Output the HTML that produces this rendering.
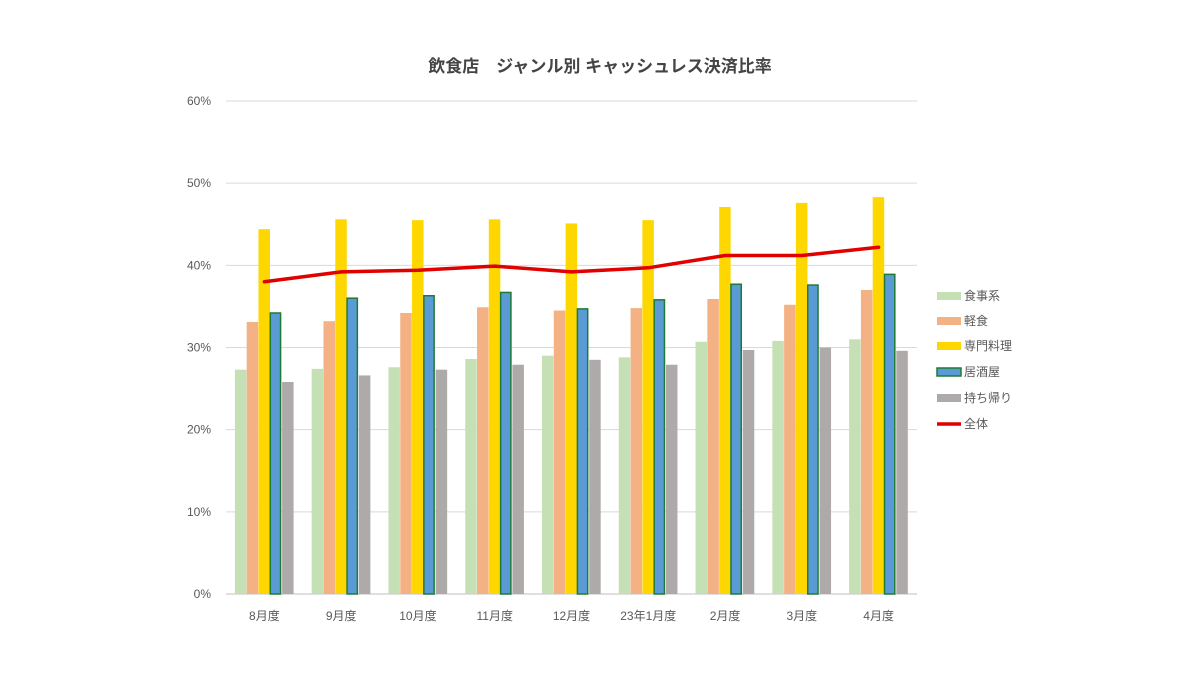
<!DOCTYPE html>
<html><head><meta charset="utf-8"><style>
body{margin:0;background:#fff;}
svg{display:block;font-family:"Liberation Sans","Noto Sans CJK JP",sans-serif;}
</style></head><body>
<svg width="1202" height="677">
<g id="grid"></g><g id="bars"></g><g id="line"></g><g id="labels"></g><g id="legend"></g>
<text x="600" y="72" text-anchor="middle" font-size="17" font-weight="bold" fill="#444">飲食店　ジャンル別 キャッシュレス決済比率</text>
</svg>
<script>
const categories=["8月度","9月度","10月度","11月度","12月度","23年1月度","2月度","3月度","4月度"];
const seriesNames=["食事系","軽食","専門料理","居酒屋","持ち帰り"];
const shokuji=[27.3,27.4,27.6,28.6,29.0,28.8,30.7,30.8,31.0];
const keishoku=[33.1,33.2,34.2,34.9,34.5,34.8,35.9,35.2,37.0];
const senmon=[44.4,45.6,45.5,45.6,45.1,45.5,47.1,47.6,48.3];
const izakaya=[34.2,36.0,36.3,36.7,34.7,35.8,37.7,37.6,38.9];
const mochikaeri=[25.8,26.6,27.3,27.9,28.5,27.9,29.7,30.0,29.6];
const zentai=[38.0,39.2,39.4,39.9,39.2,39.7,41.2,41.2,42.2];
const yTicks=[0,10,20,30,40,50,60];
const NS="http://www.w3.org/2000/svg";
const x0=226,x1=917,yb=594,yt=101;
const y=v=>yb-(v/60)*(yb-yt);
const cw=(x1-x0)/categories.length;
const xc=i=>x0+cw*(i+0.5);
const bw=11.8;
function mk(tag,attrs,parent){const e=document.createElementNS(NS,tag);for(const k in attrs)e.setAttribute(k,attrs[k]);document.getElementById(parent).appendChild(e);return e;}
yTicks.forEach(t=>{
 const l=mk('line',{x1:x0,x2:x1,y1:y(t),y2:y(t),stroke:t===0?'#bfbfbf':'#d9d9d9','stroke-width':1},'grid');
 
 
 const tx=mk('text',{x:211,y:y(t)+4,'text-anchor':'end','font-size':12,fill:'#595959'},'labels');
 tx.textContent=t+'%';
 
 
});
const data=[shokuji,keishoku,senmon,izakaya,mochikaeri];
const fills=['#c5e0b4','#f4b183','#ffd700','#5b9bd5','#aeaaaa'];
data.forEach((s,si)=>{
 s.forEach((v,i)=>{
  const bx=xc(i)+(si-2.5)*bw;
  const r=mk('rect',{x:bx,y:y(v),width:bw-(si===3?1.5:0.3),height:yb-y(v),fill:fills[si]},'bars');
  if(si===3){r.setAttribute('stroke','#1e7b34');r.setAttribute('stroke-width','1.5');}
  
  
 });
});
categories.forEach((c,i)=>{
 const tx=mk('text',{x:xc(i),y:620,'text-anchor':'middle','font-size':12,fill:'#595959'},'labels');
 tx.textContent=c;
 
 
});
const pl=mk('polyline',{points:zentai.map((v,i)=>xc(i)+','+y(v)).join(' '),fill:'none',stroke:'#e00000','stroke-width':3.5,'stroke-linejoin':'round','stroke-linecap':'round'},'line');


const legY=[296,321,346,372,398];
seriesNames.forEach((n,si)=>{
 const r=mk('rect',{x:937,y:legY[si]-4,width:24,height:8,fill:fills[si]},'legend');
 if(si===3){r.setAttribute('stroke','#1e7b34');r.setAttribute('stroke-width','1.5');}
 
 
 const t=mk('text',{x:964,y:legY[si]+4,'font-size':12,fill:'#595959'},'legend');
 t.textContent=n;
 
 
});
const ll=mk('line',{x1:937,x2:961,y1:424,y2:424,stroke:'#e00000','stroke-width':3.5},'legend');


const lt=mk('text',{x:964,y:428,'font-size':12,fill:'#595959'},'legend');
lt.textContent='全体';


</script>
</body></html>
